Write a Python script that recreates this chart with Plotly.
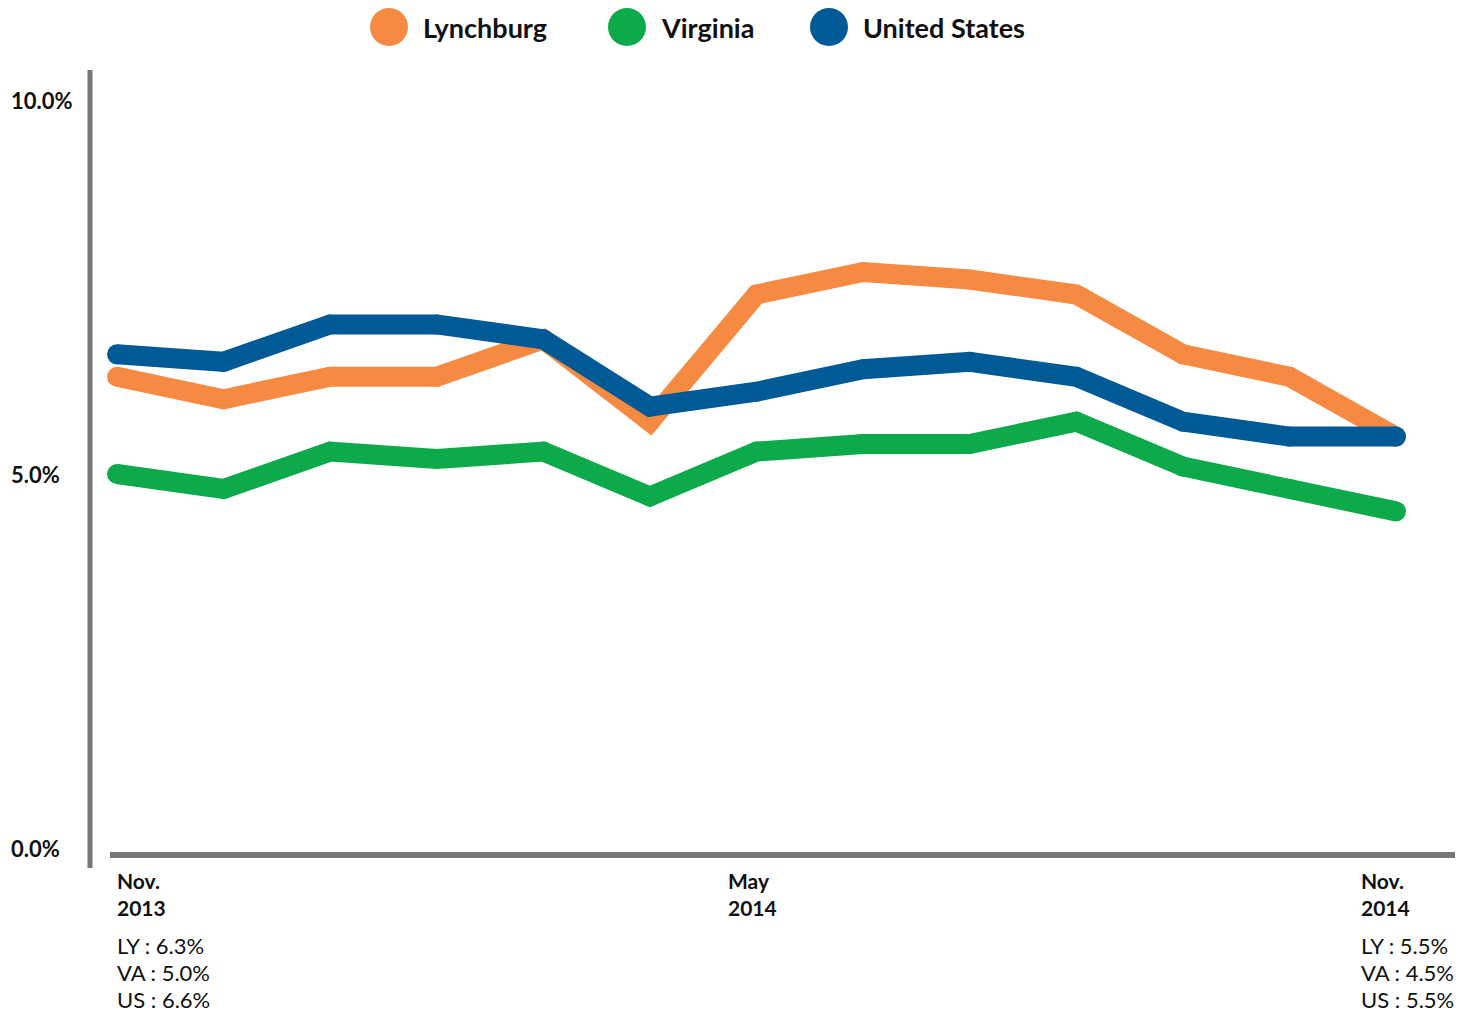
import plotly.graph_objects as go

# ---- data ----
months = ["Nov 2013", "Dec 2013", "Jan 2014", "Feb 2014", "Mar 2014", "Apr 2014", "May 2014",
          "Jun 2014", "Jul 2014", "Aug 2014", "Sep 2014", "Oct 2014", "Nov 2014"]
lynchburg = [6.3, 6.0, 6.3, 6.3, 6.8, 5.7, 7.4, 7.7, 7.6, 7.4, 6.6, 6.3, 5.5]
virginia = [5.0, 4.8, 5.3, 5.2, 5.3, 4.7, 5.3, 5.4, 5.4, 5.7, 5.1, 4.8, 4.5]
united_states = [6.6, 6.5, 7.0, 7.0, 6.8, 5.9, 6.1, 6.4, 6.5, 6.3, 5.7, 5.5, 5.5]
series_names = ["Lynchburg", "Virginia", "United States"]
series_abbr = ["LY", "VA", "US"]
y_ticks = [0, 5, 10]
x_tick_idx = [0, 6, 12]
x_tick_labels = [["Nov.", "2013"], ["May", "2014"], ["Nov.", "2014"]]

colors = ["#F68A42", "#0DAA4B", "#005A96"]
series = [lynchburg, virginia, united_states]

# page has an 8px body margin; lay the figure out in screen pixels
OFF = 8
SW, SH = 1470, 1013
W, H = SW - OFF, SH - OFF
# plot area in screen pixels
PL, PR, PT, PB = 90, 1455, 70, 868
L, R, T, B = PL - OFF, SW - PR, PT - OFF, SH - PB
PW, PH = PR - PL, PB - PT


def px_x(px):
    return (px - PL) / PW


def px_y(py):
    return (PB - py) / PH


x = list(range(len(months)))
fig = go.Figure()
for name, vals, col in zip(series_names, series, colors):
    fig.add_trace(go.Scatter(
        x=x, y=vals, name=name, mode="lines+markers",
        line=dict(color=col, width=20),
        marker=dict(color=col, size=20, line=dict(width=0)),
        showlegend=False, hoverinfo="skip",
    ))

FONT = "Lato"
TXT = "#111111"
annotations = []
shapes = []

# y tick labels
for v in y_ticks:
    annotations.append(dict(
        x=px_x(9), xref="paper", xanchor="left",
        y=v, yref="y", yanchor="middle",
        text=f"<b>{v:.1f}%</b>", showarrow=False,
        font=dict(family=FONT, size=22, color=TXT),
    ))

# x tick labels (two lines each)
for i, lines in zip(x_tick_idx, x_tick_labels):
    shift = -2 if i == 0 else (-37 if i == 12 else -31)
    for k, line in enumerate(lines):
        annotations.append(dict(
            x=i, xref="x", xanchor="left", xshift=shift,
            y=px_y(880 + 27 * k), yref="paper", yanchor="middle",
            text=f"<b>{line}</b>", showarrow=False,
            font=dict(family=FONT, size=21, color=TXT),
        ))

# first / last value labels
for i in (0, len(months) - 1):
    shift = -2 if i == 0 else -37
    for k, (a, s) in enumerate(zip(series_abbr, series)):
        annotations.append(dict(
            x=i, xref="x", xanchor="left", xshift=shift,
            y=px_y(945 + 27.5 * k), yref="paper", yanchor="middle",
            text=f"{a} : {s[i]:.1f}%", showarrow=False,
            font=dict(family=FONT, size=22, color=TXT),
        ))

# legend (manual, large circles)
leg_cx = [389, 627, 829]
for name, col, cx in zip(series_names, colors, leg_cx):
    shapes.append(dict(
        type="circle", xref="paper", yref="paper",
        x0=px_x(cx - 19), x1=px_x(cx + 19), y0=px_y(46), y1=px_y(8),
        fillcolor=col, line=dict(width=0),
    ))
    annotations.append(dict(
        x=px_x(cx + 32), xref="paper", xanchor="left",
        y=px_y(27), yref="paper", yanchor="middle",
        text=f"<b>{name}</b>", showarrow=False,
        font=dict(family=FONT, size=27, color=TXT),
    ))

# axis lines
shapes.append(dict(type="line", xref="paper", yref="paper",
                   x0=0, x1=0, y0=0, y1=1,
                   line=dict(color="#777777", width=5)))
shapes.append(dict(type="line", xref="paper", yref="paper",
                   x0=px_x(110), x1=1, y0=px_y(855), y1=px_y(855),
                   line=dict(color="#777777", width=6)))

px_per_x = (1396 - 117) / 12
px_per_y = (848 - 100) / 10
fig.update_layout(
    width=W, height=H,
    margin=dict(l=L, r=R, t=T, b=B),
    paper_bgcolor="white", plot_bgcolor="white",
    xaxis=dict(range=[-(117 - PL) / px_per_x, 12 + (PR - 1396) / px_per_x],
               showgrid=False, zeroline=False, showticklabels=False, showline=False),
    yaxis=dict(range=[-(PB - 848) / px_per_y, 10 + (100 - PT) / px_per_y],
               showgrid=False, zeroline=False, showticklabels=False, showline=False),
    annotations=annotations, shapes=shapes,
)

fig.write_html("out.html")
